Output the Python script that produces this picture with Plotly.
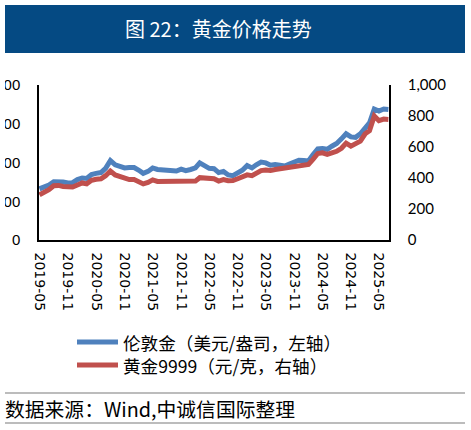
import pandas as pd
import plotly.graph_objects as go

# monthly data, 2019-05 .. 2025-07
months = pd.date_range("2019-05-01", "2025-07-01", freq="MS")

# London gold, USD/oz (left axis)
london_gold = [1320, 1360, 1420, 1500, 1505, 1495, 1470, 1480,
               1560, 1600, 1590, 1690, 1720, 1740, 1850, 2050, 1940, 1900, 1860, 1870,
               1870, 1800, 1720, 1770, 1860, 1820, 1810, 1790, 1770, 1780, 1830, 1790,
               1820, 1860, 1990, 1930, 1850, 1840, 1740, 1770, 1680, 1660, 1740, 1800,
               1920, 1860, 1940, 2010, 1990, 1930, 1950, 1920, 1910, 1960, 2020, 2060,
               2050, 2040, 2200, 2350, 2360, 2340, 2420, 2490, 2610, 2740, 2660, 2650,
               2740, 2910, 3020, 3380, 3330, 3380, 3370]

# Au9999, CNY/g (right axis)
au9999 = [292, 305, 325, 350, 352, 345, 340, 342,
          355, 368, 362, 385, 392, 395, 415, 445, 420, 410, 395, 390,
          390, 378, 362, 372, 388, 378, 378, 375, 372, 372, 378, 372,
          375, 380, 402, 400, 395, 395, 380, 390, 382, 383, 395, 405,
          420, 415, 432, 448, 452, 448, 455, 460, 470, 472, 478, 482,
          485, 488, 520, 558, 562, 552, 562, 572, 592, 625, 605, 618,
          638, 685, 705, 800, 770, 780, 778]

tick_dates = pd.date_range("2019-05-01", "2025-05-01", freq="6MS")
tick_labels = [d.strftime("%Y-%m") for d in tick_dates]

name_london = "伦敦金（美元/盎司，左轴）"
name_au = "黄金9999（元/克，右轴）"
blue = "#4F81BD"
red = "#C0504D"

fig = go.Figure()
fig.add_trace(go.Scatter(x=months, y=london_gold, name=name_london, mode="lines",
                         line=dict(color=blue, width=5), yaxis="y"))
fig.add_trace(go.Scatter(x=months, y=au9999, name=name_au, mode="lines",
                         line=dict(color=red, width=5), yaxis="y2"))

W, H = 471, 430
L, R, T, B = 39, 82, 85, 190
pw, ph = W - L - R, H - T - B

def px(x):
    return (x - L) / pw

def py(y):
    return (H - B - y) / ph

shapes = [
    # title bar
    dict(type="rect", xref="paper", yref="paper", x0=px(5), x1=px(465), y0=py(53), y1=py(5),
         fillcolor="#054A83", line_width=0, layer="below"),
    # legend keys
    dict(type="line", xref="paper", yref="paper", x0=px(77), x1=px(118), y0=py(342), y1=py(342),
         line=dict(color=blue, width=5)),
    dict(type="line", xref="paper", yref="paper", x0=px(77), x1=px(118), y0=py(365), y1=py(365),
         line=dict(color=red, width=5)),
    # source rules
    dict(type="line", xref="paper", yref="paper", x0=px(5), x1=px(465), y0=py(393), y1=py(393),
         line=dict(color="#A6A6A6", width=1.5)),
    dict(type="line", xref="paper", yref="paper", x0=px(5), x1=px(465), y0=py(423), y1=py(423),
         line=dict(color="#A6A6A6", width=1.5)),
    # left edge crop
    dict(type="rect", xref="paper", yref="paper", x0=px(-20), x1=px(5), y0=py(300), y1=py(60),
         fillcolor="white", line_width=0, layer="above"),
]

cjk = "Noto Sans CJK SC"
annotations = [
    dict(text="图 22：黄金价格走势", xref="paper", yref="paper", x=px(219), y=py(29),
         xanchor="center", yanchor="middle", showarrow=False,
         font=dict(family=cjk, size=20, color="white")),
    dict(text=name_london, xref="paper", yref="paper", x=px(121), y=py(342),
         xanchor="left", yanchor="middle", showarrow=False,
         font=dict(family=cjk, size=17.6, color="black")),
    dict(text=name_au, xref="paper", yref="paper", x=px(121), y=py(365),
         xanchor="left", yanchor="middle", showarrow=False,
         font=dict(family=cjk, size=17.6, color="black")),
    dict(text="数据来源：Wind,中诚信国际整理", xref="paper", yref="paper", x=px(3), y=py(408),
         xanchor="left", yanchor="middle", showarrow=False,
         font=dict(family=cjk, size=19.8, color="black")),
]

fig.update_layout(
    width=W, height=H,
    margin=dict(l=L, r=R, t=T, b=B, autoexpand=False),
    paper_bgcolor="white", plot_bgcolor="white",
    showlegend=False,
    shapes=shapes, annotations=annotations,
    xaxis=dict(range=["2019-04-28", "2025-07-05"], tickvals=tick_dates, ticktext=tick_labels,
               tickangle=90, showgrid=False, showline=True, linecolor="black", linewidth=1.5,
               ticks="", ticklabelstandoff=8, automargin=False,
               tickfont=dict(family="DejaVu Sans", size=14, color="black")),
    yaxis=dict(range=[0, 4000], dtick=1000, tickformat=",", showgrid=False, zeroline=False,
               showline=True, linecolor="black", linewidth=1.5, ticks="", ticklabelstandoff=14,
               automargin=False, tickfont=dict(family="Liberation Sans", size=15, color="black")),
    yaxis2=dict(range=[0, 1000], dtick=200, tickformat=",", overlaying="y", side="right",
                showgrid=False, zeroline=False, showline=True, linecolor="black", linewidth=1.5,
                ticks="", ticklabelstandoff=14, automargin=False,
                tickfont=dict(family="Lato", size=15, color="black")),
)

fig.write_html("out.html", config={"displayModeBar": False},
               post_script="document.body.style.margin='0';")
